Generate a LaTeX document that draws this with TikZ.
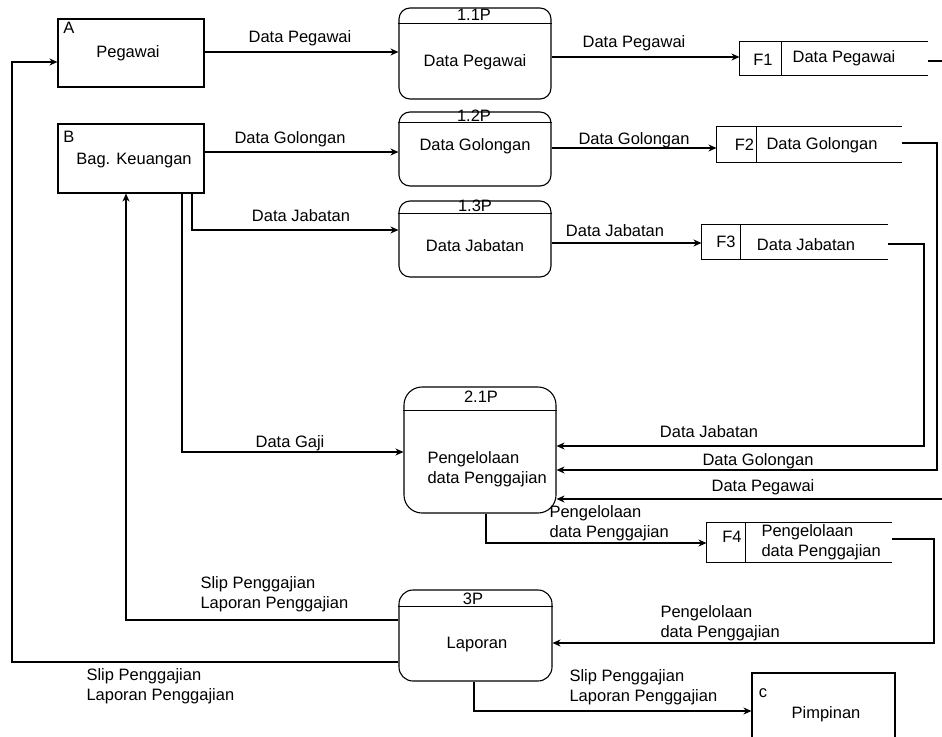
\documentclass[tikz,border=0pt]{standalone}
\usepackage{fontspec}
\setmainfont{Liberation Sans}
\usetikzlibrary{arrows.meta}
\begin{document}
\begin{tikzpicture}[x=1pt,y=-1pt, line width=1.1pt,
  txt/.style={inner sep=0pt, font=\fontsize{16.5}{20}\selectfont},
  ml/.style={txt, align=left, anchor=west},
  ent/.style={draw, rectangle, inner sep=0pt},
  proc/.style={draw, rectangle, rounded corners=#1, inner sep=0pt},
  proc/.default=11pt,
  storebox/.style={inner sep=0pt},
  arr/.style={-{Stealth[length=8pt,width=7pt,inset=2.5pt]}}]
\useasboundingbox (0,0) rectangle (942,736);
\clip (0,0) rectangle (942,736);

% external entities
\node[ent, minimum width=146pt, minimum height=68pt] (a) at (131,53) {};
\node[ent, minimum width=146pt, minimum height=69pt] (b) at (131,158.5) {};
\node[ent, minimum width=143pt, minimum height=87pt] (c) at (823.5,716.5) {};
\node[txt] (alab) at (69,28) {A};
\node[txt] (atxt) at (128,53) {Pegawai};
\node[txt] (blab) at (69,137) {B};
\node[txt] (btxt) at (134,161) {Bag. Keuangan};
\node[txt] (clab) at (763,693) {c};
\node[txt] (ctxt) at (826,714) {Pimpinan};

% processes
\node[proc, minimum width=152pt, minimum height=91pt] (p11) at (475,53.5) {};
\draw ([yshift=-16pt]p11.north west) -- ([yshift=-16pt]p11.north east);
\node[txt] (p11n) at (474,15) {1.1P};
\node[txt] (p11t) at (475,62) {Data Pegawai};

\node[proc, minimum width=152pt, minimum height=74pt] (p12) at (475,149) {};
\draw ([yshift=-11pt]p12.north west) -- ([yshift=-11pt]p12.north east);
\node[txt] (p12n) at (474,116) {1.2P};
\node[txt] (p12t) at (475,146) {Data Golongan};

\node[proc, minimum width=152pt, minimum height=76pt] (p13) at (475,239) {};
\draw ([yshift=-13pt]p13.north west) -- ([yshift=-13pt]p13.north east);
\node[txt] (p13n) at (475,206) {1.3P};
\node[txt] (p13t) at (475,246) {Data Jabatan};

\node[proc=18pt, minimum width=152pt, minimum height=126pt] (p21) at (480,450) {};
\draw ([yshift=-24pt]p21.north west) -- ([yshift=-24pt]p21.north east);
\node[txt] (p21n) at (481,397) {2.1P};
\node[ml] (p21t) at (427,469) {Pengelolaan\\data Penggajian};

\node[proc=14pt, minimum width=153pt, minimum height=91pt] (p3) at (475.5,635.5) {};
\draw ([yshift=-17pt]p3.north west) -- ([yshift=-17pt]p3.north east);
\node[txt] (p3n) at (473,599) {3P};
\node[txt] (p3t) at (477,645) {Laporan};

% data stores
\node[storebox, minimum width=187pt, minimum height=33pt] (f1) at (833.5,58.5) {};
\draw (f1.north east) -- (f1.north west) -- (f1.south west) -- (f1.south east);
\draw ([xshift=42pt]f1.north west) -- ([xshift=42pt]f1.south west);
\node[txt] (f1n) at (763,60) {F1};
\node[txt] (f1t) at (844,58) {Data Pegawai};

\node[storebox, minimum width=184pt, minimum height=35pt] (f2) at (809,144.5) {};
\draw (f2.north east) -- (f2.north west) -- (f2.south west) -- (f2.south east);
\draw ([xshift=40pt]f2.north west) -- ([xshift=40pt]f2.south west);
\node[txt] (f2n) at (744.5,145) {F2};
\node[txt] (f2t) at (822,145) {Data Golongan};

\node[storebox, minimum width=185pt, minimum height=34pt] (f3) at (794.5,242) {};
\draw (f3.north east) -- (f3.north west) -- (f3.south west) -- (f3.south east);
\draw ([xshift=39pt]f3.north west) -- ([xshift=39pt]f3.south west);
\node[txt] (f3n) at (726,242) {F3};
\node[txt] (f3t) at (806,245) {Data Jabatan};

\node[storebox, minimum width=184pt, minimum height=39pt] (f4) at (799,542.5) {};
\draw (f4.north east) -- (f4.north west) -- (f4.south west) -- (f4.south east);
\draw ([xshift=39pt]f4.north west) -- ([xshift=39pt]f4.south west);
\node[txt] (f4n) at (732,537) {F4};
\node[ml] (f4t) at (761,542) {Pengelolaan\\data Penggajian};

% connector coordinates
\coordinate (k1) at (12,662);
\coordinate (k2) at (12,62);
\coordinate (k3) at (126,620);
\coordinate (y52) at (0,52);
\coordinate (y57) at (0,57);
\coordinate (k4) at (946,61);
\coordinate (k5) at (946,499);
\coordinate (y152) at (0,152);
\coordinate (y148) at (0,148);
\coordinate (k6) at (937,143);
\coordinate (k7) at (937,470);
\coordinate (k10) at (192,230);
\coordinate (y243) at (0,243);
\coordinate (k8) at (924,244);
\coordinate (k9) at (924,446);
\coordinate (k11) at (182,452);
\coordinate (k12) at (486,543);
\coordinate (k13) at (934,539);
\coordinate (k14) at (934,643);
\coordinate (k15) at (474,711);

% connectors
\draw[arr] (p3.west |- k1) -- (k1) -- (k2) -- (a.west |- k2);
\draw[arr] (p3.west |- k3) -- (k3) -- (k3 |- b.south);
\draw[arr] (a.east |- y52) -- (p11.west |- y52);
\draw[arr] (p11.east |- y57) -- (f1.west |- y57);
\draw[arr] (f1.east |- k4) -- (k4) -- (k5) -- (p21.east |- k5);
\draw[arr] (b.east |- y152) -- (p12.west |- y152);
\draw[arr] (p12.east |- y148) -- (f2.west |- y148);
\draw[arr] (f2.east |- k6) -- (k6) -- (k7) -- (p21.east |- k7);
\draw[arr] (b.south -| k10) -- (k10) -- (p13.west |- k10);
\draw[arr] (p13.east |- y243) -- (f3.west |- y243);
\draw[arr] (f3.east |- k8) -- (k8) -- (k9) -- (p21.east |- k9);
\draw[arr] (b.south -| k11) -- (k11) -- (p21.west |- k11);
\draw[arr] (p21.south -| k12) -- (k12) -- (f4.west |- k12);
\draw[arr] (f4.east |- k13) -- (k13) -- (k14) -- (p3.east |- k14);
\draw[arr] (p3.south -| k15) -- (k15) -- (c.west |- k15);

% connector labels
\node[txt] (t1) at (300,38) {Data Pegawai};
\node[txt] (t2) at (634,43) {Data Pegawai};
\node[txt] (t3) at (290,139) {Data Golongan};
\node[txt] (t4) at (634,140) {Data Golongan};
\node[txt] (t5) at (301,216) {Data Jabatan};
\node[txt] (t6) at (615,231) {Data Jabatan};
\node[txt] (t7) at (290,443) {Data Gaji};
\node[txt] (t8) at (709,432) {Data Jabatan};
\node[txt] (t9) at (758,461) {Data Golongan};
\node[txt] (t10) at (763,487) {Data Pegawai};
\node[ml] (t11) at (549,523) {Pengelolaan\\data Penggajian};
\node[ml] (t12) at (660,623) {Pengelolaan\\data Penggajian};
\node[ml] (t13) at (200,594) {Slip Penggajian\\Laporan Penggajian};
\node[ml] (t14) at (86,686) {Slip Penggajian\\Laporan Penggajian};
\node[ml] (t15) at (569,687) {Slip Penggajian\\Laporan Penggajian};
\end{tikzpicture}
\end{document}
